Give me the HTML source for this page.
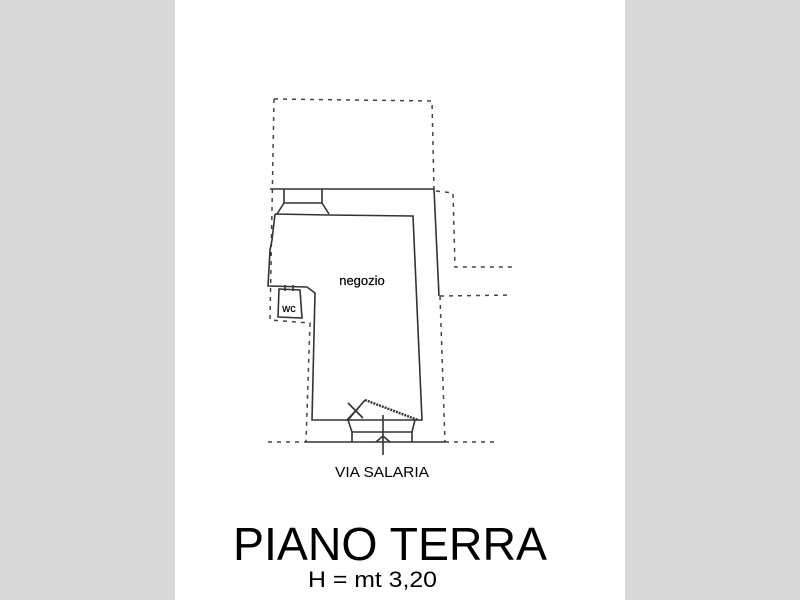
<!DOCTYPE html>
<html><head><style>
html,body{margin:0;padding:0;background:#d9d9d9;}
svg{display:block;}
</style></head><body>
<svg width="800" height="600" viewBox="0 0 800 600" xmlns="http://www.w3.org/2000/svg">
<rect x="0" y="0" width="800" height="600" fill="#d9d9d9"/>
<rect x="175" y="0" width="450" height="600" fill="#fff"/>
<g fill="none" stroke="#444" stroke-width="1.5" stroke-dasharray="4,5">
<path d="M274,99 L432,101 L434,189"/>
<path d="M274,99 L270,320 L310,323 L306,442"/>
<path d="M436,191 L453,193 L455,267 L512,267"/>
<path d="M440,296 L512,295"/>
<path d="M440,296 L445,442"/>
<path d="M268,442 L305,442"/>
<path d="M445,442 L495,442"/>
</g>
<g fill="none" stroke="#333" stroke-width="1.6">
<path d="M270,189 L434,189 L439,296"/>
<path d="M284,189 L284,203 L322,203 L322,189"/>
<path d="M284,203 L277,214 M322,203 L329,214"/>
<path d="M275,214 L328,215 L413,216 L422,420 L312,420 L315,293 L307,287 L268,286 L270,250 L272,240 L275,214"/>
<path d="M305,442 L445,442"/>
<path d="M348,420 L352,432 L412,432 L415,420"/>
<path d="M352,432 L352,442 M412,432 L412,442"/>
<path d="M348,403 L363,418 M360,406 L347,420"/>
<path d="M365,400 L418,420" stroke-width="2.4" stroke-dasharray="2,1"/>
<path d="M365,400 L348,420"/>
<path d="M383,415 L383,455 M376,442 L383,436 L390,442"/>
<path d="M279,289 L300,290 L302,318 L278,317 Z"/>
<path d="M285,285 L285,291 M293,285 L293,291"/>
</g>
<g font-family="'Liberation Sans',sans-serif" fill="#000">
<text x="362" y="285" font-size="13" text-anchor="middle" stroke="#000" stroke-width="0.2">negozio</text>
<text x="289" y="312" font-size="11" text-anchor="middle" stroke="#000" stroke-width="0.2">wc</text>
<text x="382" y="477" font-size="15" text-anchor="middle" textLength="94" lengthAdjust="spacingAndGlyphs">VIA SALARIA</text>
<text x="233" y="560" font-size="46" textLength="314" lengthAdjust="spacingAndGlyphs">PIANO TERRA</text>
<text x="308" y="587" font-size="22" textLength="129" lengthAdjust="spacingAndGlyphs">H = mt 3,20</text>
</g>
</svg>
</body></html>
